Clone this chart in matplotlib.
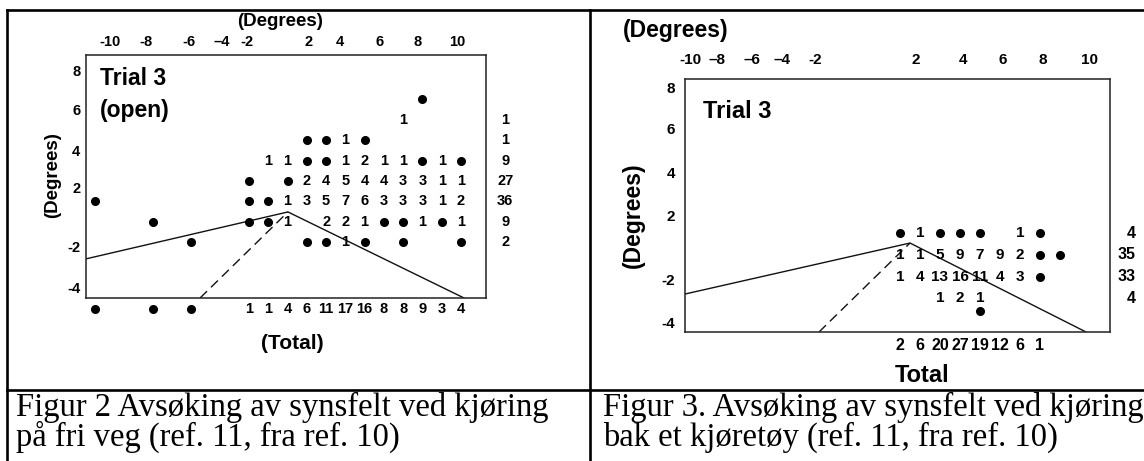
import matplotlib
matplotlib.use("Agg")
import matplotlib.pyplot as plt
from matplotlib.lines import Line2D

plt.rcParams['font.family'] = ['Liberation Sans', 'DejaVu Sans']

W, H = 1144, 461

# ---------------- Figur 2: Trial 3 (open) ----------------
# grid cells: None = empty, 0 = dot, n = count
left_cols = list(range(12))
left_rows = [6, 5, 4, 3, 2, 1, 0, -1]
left_grid = [
    [None, None, None, None, None, None, None, None, None, 0, None, None],
    [None, None, None, None, None, None, None, None, 1, None, None, None],
    [None, None, None, 0, 0, 1, 0, None, None, None, None, None],
    [None, 1, 1, 0, 0, 1, 2, 1, 1, 0, 1, 0],
    [0, None, 0, 2, 4, 5, 4, 4, 3, 3, 1, 1],
    [0, 0, 1, 3, 5, 7, 6, 3, 3, 3, 1, 2],
    [0, 0, 1, None, 2, 2, 1, 0, 0, 1, 0, 1],
    [None, None, None, 0, 0, 1, 0, None, 0, None, None, 0],
]
left_far_x = [-8, -5, -3]
left_far_y = [1, 0, -1]
left_col_totals = [1, 1, 4, 6, 11, 17, 16, 8, 8, 9, 3, 4]
left_row_totals = [1, 1, 9, 27, 36, 9, 2]   # rows 5 .. -1
left_solid_x = [-8.46, 2.02, 11.16]
left_solid_y = [-1.80, 0.49, -3.71]
left_dash_x = [-2.54, 2.02]
left_dash_y = [-3.71, 0.49]
left_xtick_pos = [-7.21, -5.35, -3.11, -1.40, -0.10, 3.11, 4.72, 6.75, 8.77, 10.79]
left_xtick_lab = ['-10', '-8', '-6', '\u20134', '-2', '2', '4', '6', '8', '10']
left_ytick_pos = [7.41, 5.51, 3.51, 1.66, -1.22, -3.22]
left_ytick_lab = ['8', '6', '4', '2', '-2', '-4']

# ---------------- Figur 3: Trial 3 (following) ----------------
right_cols = list(range(9))
right_rows = [1, 0, -1, -2]
right_grid = [
    [0, 1, 0, 0, 0, None, 1, 0, None],
    [1, 1, 5, 9, 7, 9, 2, 0, 0],
    [1, 4, 13, 16, 11, 4, 3, 0, None],
    [None, None, 1, 2, 1, None, None, None, None],
]
right_far_x = [4]
right_far_y = [-2.6]
right_col_totals = [2, 6, 20, 27, 19, 12, 6, 1]
right_row_totals = [4, 35, 33, 4]   # rows 1 .. -2
right_solid_x = [-10.75, 0.5, 9.3]
right_solid_y = [-1.80, 0.55, -3.55]
right_dash_x = [-4.05, 0.5]
right_dash_y = [-3.55, 0.55]
right_xtick_pos = [-10.5, -9.15, -7.4, -5.9, -4.25, 0.8, 3.15, 5.15, 7.15, 9.5]
right_xtick_lab = ['-10', '\u20138', '\u20136', '\u20134', '-2', '2', '4', '6', '8', '10']
right_ytick_pos = [7.70, 5.85, 3.82, 1.84, -1.15, -3.13]
right_ytick_lab = ['8', '6', '4', '2', '-2', '-4']

captions_left = ['Figur 2 Avsøking av synsfelt ved kjøring', 'på fri veg (ref. 11, fra ref. 10)']
captions_right = ['Figur 3. Avsøking av synsfelt ved kjøring', 'bak et kjøretøy (ref. 11, fra ref. 10)']


def fx(x):
    return x / W


def fy(y):
    return 1 - y / H


def draw_grid(ax, cols, rows, grid, size):
    for y, row in zip(rows, grid):
        for x, v in zip(cols, row):
            if v is None:
                continue
            if v == 0:
                ax.plot(x, y, 'o', color='black', ms=5.5, clip_on=False)
            else:
                ax.text(x, y, str(v), ha='center', va='center', fontsize=size,
                        fontweight='bold', clip_on=False)


def setup(ax, xlim, ylim, xt, xl, yt, yl, size, xpad, ypad):
    ax.set_xlim(xlim)
    ax.set_ylim(ylim)
    ax.xaxis.tick_top()
    ax.set_xticks(xt, xl)
    ax.set_yticks(yt, yl)
    ax.tick_params(length=0, labelsize=size)
    ax.tick_params(axis='x', pad=xpad)
    ax.tick_params(axis='y', pad=ypad)
    for lab in ax.get_xticklabels() + ax.get_yticklabels():
        lab.set_fontweight('bold')
    for s in ax.spines.values():
        s.set_linewidth(1.1)
        s.set_color('#222222')


fig = plt.figure(figsize=(W / 100, H / 100), dpi=100)

# left panel
axL = fig.add_axes([fx(86), fy(298), 400 / W, 243 / H])
setup(axL, (-8.46, 12.30), (-3.71, 8.15), left_xtick_pos, left_xtick_lab,
      left_ytick_pos, left_ytick_lab, 10.5, 4, 4)
axL.plot(left_solid_x, left_solid_y, color='#111111', lw=1.0)
axL.plot(left_dash_x, left_dash_y, color='#111111', lw=1.0, dashes=(7, 4))
draw_grid(axL, left_cols, left_rows, left_grid, 10.5)
axL.plot(left_far_x, left_far_y, 'o', color='black', ms=5.5)
# totals
for x, v in zip(left_cols, left_col_totals):
    axL.text(x, -4.24, str(v), ha='center', va='center', fontsize=10.5,
             fontweight='bold', clip_on=False)
axL.plot(left_far_x, [-4.24] * len(left_far_x), 'o', color='black', ms=5.5, clip_on=False)
for y, v in zip(left_rows[1:], left_row_totals):
    axL.text(13.3, y, str(v), ha='center', va='center', fontsize=10.5,
             fontweight='bold', clip_on=False)
axL.text(-7.73, 7.02, 'Trial 3', ha='left', va='center', fontsize=16.5, fontweight='bold')
axL.text(-7.73, 5.46, '(open)', ha='left', va='center', fontsize=16.5, fontweight='bold')
fig.text(fx(280), fy(22), '(Degrees)', ha='center', va='center', fontsize=13.5, fontweight='bold')
fig.text(fx(53), fy(175), '(Degrees)', ha='center', va='center', fontsize=13.5,
         fontweight='bold', rotation=90)
fig.text(fx(292), fy(343), '(Total)', ha='center', va='center', fontsize=15, fontweight='bold')

# right panel
axR = fig.add_axes([fx(685), fy(332), 425 / W, 253 / H])
setup(axR, (-10.75, 10.5), (-3.55, 8.11), right_xtick_pos, right_xtick_lab,
      right_ytick_pos, right_ytick_lab, 11, 9, 7)
axR.plot(right_solid_x, right_solid_y, color='#111111', lw=1.0)
axR.plot(right_dash_x, right_dash_y, color='#111111', lw=1.0, dashes=(7, 4))
draw_grid(axR, right_cols, right_rows, right_grid, 11)
axR.plot(right_far_x, right_far_y, 'o', color='black', ms=5.5)
for x, v in zip(right_cols, right_col_totals):
    axR.text(x, -4.15, str(v), ha='center', va='center', fontsize=11.5,
             fontweight='bold', clip_on=False)
for y, v in zip(right_rows, right_row_totals):
    axR.text(11.8, y, str(v), ha='right', va='center', fontsize=11.5,
             fontweight='bold', clip_on=False)
axR.text(-9.85, 6.6, 'Trial 3', ha='left', va='center', fontsize=17, fontweight='bold')
fig.text(fx(676), fy(30), '(Degrees)', ha='center', va='center', fontsize=16.5, fontweight='bold')
fig.text(fx(633), fy(215), '(Degrees)', ha='center', va='center', fontsize=16.5,
         fontweight='bold', rotation=90)
fig.text(fx(922), fy(375), 'Total', ha='center', va='center', fontsize=17, fontweight='bold')

# table frame
table_lines = [((7, 10), (1144, 10)), ((7, 10), (7, 461)), ((590, 10), (590, 461)),
               ((7, 390), (1144, 390))]
for (x0, y0), (x1, y1) in table_lines:
    fig.add_artist(Line2D([fx(x0), fx(x1)], [fy(y0), fy(y1)], transform=fig.transFigure,
                          color='black', lw=1.9))

# captions
for i, line in enumerate(captions_left):
    fig.text(fx(16), fy(416 + 30 * i), line, ha='left', va='baseline',
             fontsize=23.5, family='Liberation Serif')
for i, line in enumerate(captions_right):
    fig.text(fx(603), fy(416 + 30 * i), line, ha='left', va='baseline',
             fontsize=23.5, family='Liberation Serif')

fig.savefig('out.png', dpi=100)
